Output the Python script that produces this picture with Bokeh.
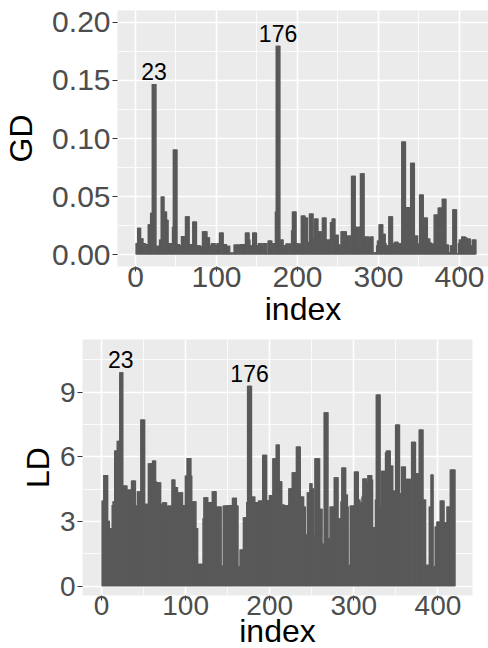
from bokeh.plotting import figure
from bokeh.models import ColumnDataSource, FixedTicker, Range1d, LabelSet
from bokeh.core.properties import value
from bokeh.embed import file_html
from bokeh.resources import INLINE

# ---------------- data ----------------
gd = [
    0.010, 0.010, 0.023, 0.023, 0.023, 0.023, 0.014, 0.014, 0.014, 0.010,
    0.010, 0.010, 0.009, 0.009, 0.009, 0.026, 0.026, 0.026, 0.036, 0.036,
    0.147, 0.147, 0.147, 0.147, 0.147, 0.0075, 0.0075, 0.0075, 0.0075, 0.013,
    0.013, 0.050, 0.050, 0.050, 0.050, 0.037, 0.037, 0.037, 0.030, 0.030,
    0.010, 0.010, 0.010, 0.010, 0.010, 0.024, 0.0905, 0.0905, 0.0905, 0.0905,
    0.0905, 0.009, 0.009, 0.009, 0.008, 0.008, 0.016, 0.016, 0.016, 0.016,
    0.016, 0.033, 0.033, 0.033, 0.033, 0.033, 0.009, 0.009, 0.009, 0.009,
    0.0285, 0.0285, 0.0285, 0.0285, 0.0285, 0.008, 0.008, 0.008, 0.008, 0.008,
    0.007, 0.007, 0.020, 0.020, 0.020, 0.020, 0.020, 0.020, 0.015, 0.015,
    0.015, 0.008, 0.008, 0.010, 0.010, 0.010, 0.010, 0.010, 0.0085, 0.0085,
    0.010, 0.010, 0.010, 0.019, 0.019, 0.019, 0.019, 0.019, 0.009, 0.009,
    0.009, 0.009, 0.0075, 0.0075, 0.0075, 0.0075, 0.0017, 0.0017, 0.0017, 0.0017,
    0.0017, 0.0086, 0.0086, 0.0086, 0.0086, 0.0086, 0.0086, 0.0086, 0.0086, 0.009,
    0.009, 0.009, 0.009, 0.009, 0.009, 0.019, 0.019, 0.019, 0.019, 0.019,
    0.013, 0.008, 0.008, 0.002, 0.019, 0.019, 0.019, 0.019, 0.019, 0.008,
    0.008, 0.010, 0.010, 0.010, 0.010, 0.010, 0.008, 0.010, 0.010, 0.010,
    0.010, 0.010, 0.001, 0.012, 0.012, 0.012, 0.012, 0.012, 0.010, 0.010,
    0.010, 0.010, 0.037, 0.180, 0.180, 0.180, 0.180, 0.180, 0.013, 0.013,
    0.013, 0.013, 0.008, 0.008, 0.008, 0.0095, 0.0095, 0.0095, 0.0095, 0.0095,
    0.0095, 0.0095, 0.021, 0.037, 0.037, 0.037, 0.037, 0.037, 0.010, 0.010,
    0.0095, 0.0095, 0.0095, 0.0095, 0.0336, 0.0336, 0.0336, 0.0336, 0.0336, 0.032,
    0.032, 0.032, 0.011, 0.011, 0.0354, 0.0354, 0.0354, 0.0354, 0.0354, 0.014,
    0.031, 0.031, 0.031, 0.031, 0.031, 0.020, 0.020, 0.020, 0.020, 0.013,
    0.032, 0.032, 0.032, 0.032, 0.032, 0.013, 0.013, 0.013, 0.013, 0.013,
    0.028, 0.028, 0.031, 0.031, 0.031, 0.031, 0.017, 0.017, 0.017, 0.017,
    0.0086, 0.0086, 0.0086, 0.020, 0.020, 0.020, 0.020, 0.020, 0.020, 0.020,
    0.0164, 0.0164, 0.0164, 0.0164, 0.0164, 0.0164, 0.068, 0.068, 0.068, 0.068,
    0.068, 0.024, 0.024, 0.024, 0.024, 0.024, 0.024, 0.070, 0.070, 0.070,
    0.070, 0.070, 0.0155, 0.0155, 0.0155, 0.0155, 0.0155, 0.0155, 0.014, 0.0155,
    0.0155, 0.0155, 0.0155, 0.002, 0.002, 0.002, 0.002, 0.008, 0.012, 0.012,
    0.026, 0.026, 0.026, 0.026, 0.026, 0.018, 0.018, 0.018, 0.010, 0.008,
    0.008, 0.008, 0.033, 0.033, 0.033, 0.033, 0.033, 0.0095, 0.0095, 0.011,
    0.011, 0.011, 0.011, 0.011, 0.0095, 0.0095, 0.010, 0.010, 0.0974, 0.0974,
    0.0974, 0.0974, 0.0974, 0.041, 0.041, 0.041, 0.041, 0.041, 0.034, 0.079,
    0.079, 0.079, 0.079, 0.079, 0.0164, 0.0164, 0.0164, 0.0164, 0.0095, 0.0095,
    0.0517, 0.0517, 0.0517, 0.0517, 0.0517, 0.032, 0.032, 0.032, 0.032, 0.032,
    0.0138, 0.0138, 0.0138, 0.0103, 0.0103, 0.0095, 0.0095, 0.0095, 0.0345, 0.0345,
    0.0345, 0.0345, 0.0345, 0.0405, 0.0405, 0.0405, 0.0405, 0.0405, 0.048, 0.048,
    0.048, 0.048, 0.048, 0.0086, 0.0086, 0.0086, 0.002, 0.002, 0.008, 0.008,
    0.008, 0.039, 0.039, 0.039, 0.039, 0.039, 0.001, 0.001, 0.010, 0.013,
    0.013, 0.013, 0.0155, 0.0155, 0.0155, 0.0155, 0.0155, 0.0147, 0.0147, 0.0138,
    0.0138, 0.0138, 0.0138, 0.008, 0.008, 0.013, 0.013, 0.013, 0.013, 0.013,
]

ld = [
    3.97, 3.97, 5.16, 5.16, 5.16, 5.16, 5.16, 3.04, 3.04, 2.69,
    2.69, 2.69, 3.77, 3.94, 3.94, 6.29, 6.29, 6.29, 6.75, 6.75,
    6.75, 9.92, 9.92, 9.92, 9.92, 4.67, 4.67, 4.67, 4.67, 4.67,
    4.48, 4.48, 4.48, 4.48, 4.48, 4.90, 4.90, 4.90, 4.90, 4.90,
    3.74, 3.74, 4.40, 4.40, 4.40, 4.40, 7.73, 7.73, 7.73, 7.73,
    7.73, 3.82, 3.82, 3.82, 3.82, 5.70, 5.70, 5.70, 5.70, 5.70,
    5.83, 5.83, 5.83, 5.83, 4.87, 4.82, 4.82, 4.82, 4.82, 4.82,
    3.82, 3.82, 3.89, 3.89, 3.89, 3.89, 3.89, 3.04, 3.74, 3.74,
    3.74, 3.74, 3.74, 4.95, 4.95, 4.95, 4.95, 4.60, 4.60, 4.60,
    2.70, 4.36, 4.36, 4.36, 4.36, 4.36, 3.77, 3.77, 3.77, 5.13,
    5.13, 5.95, 5.95, 5.95, 5.95, 5.95, 5.13, 3.94, 3.94, 3.94,
    3.94, 3.94, 2.70, 2.70, 1.04, 1.04, 1.04, 1.04, 1.04, 1.04,
    3.15, 4.13, 4.13, 4.13, 4.13, 4.13, 3.90, 3.90, 3.90, 3.90,
    3.90, 4.40, 4.40, 4.40, 4.40, 4.40, 3.70, 3.70, 3.70, 3.70,
    3.70, 3.70, 0.96, 0.96, 3.74, 3.74, 3.74, 3.74, 3.74, 3.77,
    3.77, 3.77, 3.77, 3.77, 2.70, 4.10, 4.10, 4.10, 4.10, 4.10,
    3.74, 3.74, 0.93, 0.93, 1.70, 1.70, 1.70, 1.70, 3.20, 3.20,
    3.20, 3.20, 3.90, 9.30, 9.30, 9.30, 9.30, 9.30, 4.16, 4.16,
    4.16, 4.16, 3.90, 3.90, 3.90, 3.90, 3.97, 3.97, 3.97, 3.97,
    3.97, 6.10, 6.10, 6.10, 6.10, 6.10, 4.00, 4.00, 4.00, 4.23,
    4.23, 4.23, 4.23, 5.93, 5.93, 5.93, 5.93, 6.57, 6.57, 6.57,
    6.57, 4.87, 4.87, 4.87, 3.79, 3.79, 3.79, 3.77, 3.77, 3.77,
    3.77, 3.77, 4.54, 4.54, 4.54, 4.54, 5.29, 5.29, 5.29, 5.29,
    5.29, 6.48, 6.48, 6.48, 6.48, 6.48, 4.16, 4.16, 4.16, 4.16,
    3.70, 3.70, 2.40, 2.40, 4.36, 4.36, 4.36, 4.78, 4.78, 4.78,
    4.54, 4.54, 2.40, 5.93, 5.93, 5.93, 5.93, 5.93, 5.93, 3.59,
    3.59, 3.59, 1.98, 1.98, 8.07, 8.07, 8.07, 8.07, 8.07, 2.23,
    2.23, 3.70, 3.70, 3.70, 3.70, 3.70, 5.05, 5.05, 5.05, 5.05,
    5.05, 3.15, 3.15, 3.15, 3.94, 5.50, 5.50, 5.50, 5.50, 5.50,
    4.25, 4.25, 3.70, 1.00, 1.00, 3.74, 3.74, 3.74, 3.74, 3.74,
    5.32, 5.32, 5.32, 5.32, 5.32, 4.02, 4.02, 3.89, 3.89, 4.16,
    5.00, 5.00, 5.00, 5.00, 5.00, 4.82, 5.16, 5.16, 5.16, 5.16,
    5.16, 4.95, 2.74, 2.74, 2.74, 4.02, 8.89, 8.89, 8.89, 8.89,
    8.89, 3.70, 5.36, 5.36, 5.36, 5.36, 5.36, 6.21, 6.29, 6.29,
    6.29, 6.29, 6.29, 5.60, 5.60, 5.60, 4.44, 4.44, 4.44, 7.50,
    7.50, 7.50, 7.50, 7.50, 4.31, 4.31, 5.55, 5.55, 5.55, 5.55,
    5.55, 4.08, 4.98, 4.98, 4.98, 4.98, 4.98, 3.79, 6.70, 6.70,
    6.70, 6.70, 6.70, 5.24, 5.24, 5.24, 5.24, 7.27, 7.27, 7.27,
    7.27, 7.27, 4.02, 4.02, 4.02, 1.00, 1.00, 1.00, 1.00, 3.70,
    3.70, 5.18, 5.18, 5.18, 0.93, 0.93, 2.77, 2.77, 3.00, 3.00,
    3.00, 3.00, 3.97, 3.97, 3.97, 3.97, 3.97, 2.97, 2.97, 2.97,
    3.70, 3.70, 3.70, 3.70, 5.41, 5.41, 5.41, 5.41, 5.41, 5.41,
]

index = list(range(1, len(gd) + 1))
assert len(gd) == 420 and len(ld) == 420, (len(gd), len(ld))

label_index = [23, 176]
x_title = "index"
x_ticks = [0, 100, 200, 300, 400]
x_minor = [-50, 50, 150, 250, 350, 450]
gd_ticks = [0.0, 0.05, 0.10, 0.15, 0.20]
gd_tick_labels = ["0.00", "0.05", "0.10", "0.15", "0.20"]
gd_minor = [0.025, 0.075, 0.125, 0.175]
ld_ticks = [0, 3, 6, 9]
ld_minor = [1.5, 4.5, 7.5, 10.5]

FONT = "Liberation Sans"
BAR = "#595959"


def style(p, tick_size, title_size):
    p.background_fill_color = "#EBEBEB"
    p.border_fill_color = "white"
    p.outline_line_color = None
    for ax in (p.xaxis[0], p.yaxis[0]):
        ax.axis_line_color = None
        ax.major_tick_line_color = "#333333"
        ax.major_tick_line_width = 1.1
        ax.major_tick_in = 0
        ax.major_tick_out = 5
        ax.minor_tick_line_color = None
        ax.major_label_text_font = FONT
        ax.major_label_text_font_size = tick_size
        ax.major_label_text_color = "#4D4D4D"
        ax.axis_label_text_font = FONT
        ax.axis_label_text_font_size = title_size
        ax.axis_label_text_font_style = "normal"
        ax.axis_label_text_color = "black"
    for g in (p.xgrid[0], p.ygrid[0]):
        g.grid_line_color = "white"
        g.grid_line_width = 1.6
        g.minor_grid_line_color = "white"
        g.minor_grid_line_width = 0.8


def panel(values, ylab, yticks, yminor, ylabels, x_range, y_range,
          width, height, mb_left, mb_right, mb_top, mb_bottom,
          tick_size, title_size, x_title_standoff, y_title_standoff):
    src = ColumnDataSource(dict(index=index, v=values))
    p = figure(width=width, height=height, output_backend="svg",
               toolbar_location=None, x_range=x_range, y_range=y_range,
               min_border_left=mb_left, min_border_right=mb_right,
               min_border_top=mb_top, min_border_bottom=mb_bottom)
    p.vbar(x="index", top="v", bottom=0, width=2.3, source=src,
           fill_color=BAR, line_color=None)
    style(p, tick_size, title_size)
    p.xaxis.ticker = FixedTicker(ticks=x_ticks, minor_ticks=x_minor)
    p.yaxis.ticker = FixedTicker(ticks=yticks, minor_ticks=yminor)
    if ylabels is not None:
        p.yaxis.major_label_overrides = {t: s for t, s in zip(yticks, ylabels)}
    p.xaxis.axis_label = x_title
    p.yaxis.axis_label = ylab
    p.xaxis.major_label_standoff = -5
    p.xaxis.axis_label_standoff = x_title_standoff
    p.yaxis.major_label_standoff = 2
    p.yaxis.axis_label_standoff = y_title_standoff

    lab_src = ColumnDataSource(dict(
        x=label_index,
        y=[values[i - 1] for i in label_index],
        t=[str(i) for i in label_index]))
    p.add_layout(LabelSet(x="x", y="y", text="t", source=lab_src,
                          text_align="center", text_baseline="alphabetic",
                          y_offset=4, text_font=value(FONT),
                          text_font_size="23px", text_color="black"))
    return p


p1 = panel(gd, "GD", gd_ticks, gd_minor, gd_tick_labels,
           Range1d(-22.2, 435.8), Range1d(-0.0103, 0.2103),
           width=488, height=338, mb_left=117, mb_right=0, mb_top=10,
           mb_bottom=72, tick_size="30px", title_size="32px",
           x_title_standoff=1, y_title_standoff=10)

p2 = panel(ld, "LD", ld_ticks, ld_minor, None,
           Range1d(-22.6, 441.1), Range1d(-0.43, 11.44),
           width=488, height=320, mb_left=82, mb_right=16, mb_top=1,
           mb_bottom=63, tick_size="28px", title_size="32px",
           x_title_standoff=-5, y_title_standoff=1)

open("out.html", "w").write(file_html([p1, p2], INLINE))
